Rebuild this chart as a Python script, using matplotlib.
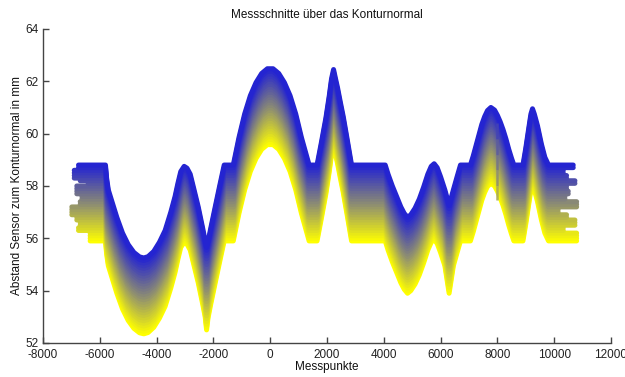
import matplotlib
matplotlib.use('Agg')
import matplotlib.pyplot as plt
from matplotlib.colors import LinearSegmentedColormap
from matplotlib.collections import LineCollection
import numpy as np

plt.rcParams['font.family'] = ['Liberation Sans', 'DejaVu Sans']
plt.rcParams['axes.unicode_minus'] = False

# profile of the top (first) measurement cut, x in Messpunkte, y in mm
prof_x = [-6800, -5800, -5760, -5700, -5600, -5400, -5200, -5000, -4800, -4600,
          -4450, -4300, -4100, -3900, -3700, -3500, -3350, -3250, -3150, -3030,
          -2930, -2816, -2680, -2534, -2380, -2290, -2240, -2190, -2100, -1936,
          -1780, -1620, -1300, -1100, -900, -700, -500, -300, -100, 100,
          300, 500, 700, 900, 1100, 1370, 1650, 1800, 1961, 2080,
          2160, 2231, 2300, 2372, 2470, 2572, 2700, 2865, 4050, 4150,
          4300, 4450, 4600, 4720, 4836, 4950, 5100, 5250, 5400, 5550,
          5670, 5773, 5880, 6000, 6150, 6300, 6450, 6580, 6700, 7050,
          7150, 7250, 7350, 7450, 7550, 7650, 7770, 7900, 8000, 8100,
          8200, 8300, 8400, 8500, 8580, 8900, 9000, 9117, 9180, 9236,
          9300, 9412, 9550, 9670, 9800, 10800]
prof_y = [58.8, 58.8, 58.3, 57.85, 57.5, 56.8, 56.2, 55.76, 55.46, 55.29,
          55.25, 55.3, 55.5, 55.85, 56.3, 57.0, 57.6, 58.1, 58.55, 58.75,
          58.68, 58.45, 57.85, 57.2, 56.4, 55.9, 55.65, 55.85, 56.35, 57.2,
          58.0, 58.8, 58.8, 59.85, 60.75, 61.45, 61.95, 62.3, 62.48, 62.48,
          62.3, 61.95, 61.45, 60.75, 59.85, 58.8, 58.8, 59.65, 60.6, 61.45,
          62.1, 62.45, 62.1, 61.75, 61.2, 60.65, 59.85, 58.8, 58.8, 58.45,
          58.0, 57.6, 57.2, 56.95, 56.8, 56.9, 57.15, 57.5, 57.95, 58.45,
          58.75, 58.85, 58.7, 58.35, 57.85, 57.25, 57.85, 58.35, 58.8, 58.8,
          59.15, 59.55, 59.95, 60.35, 60.65, 60.88, 61.0, 60.9, 60.7, 60.45,
          60.15, 59.8, 59.4, 59.05, 58.8, 58.8, 59.45, 60.3, 60.75, 60.95,
          60.75, 60.3, 59.6, 59.1, 58.8, 58.8]
# total drop from the first to the last cut at each profile point
prof_drop = [2.9] * len(prof_y)
prof_drop[prof_x.index(-2240)] = 3.15
prof_drop[prof_x.index(6300)] = 3.35

# downward shift of every cut relative to the first one
offsets = [0.0, 0.1, 0.2, 0.3, 0.4, 0.5, 0.6, 0.7, 0.8, 0.9,
           1.0, 1.1, 1.2, 1.3, 1.4, 1.5, 1.6, 1.7, 1.8, 1.9,
           2.0, 2.1, 2.2, 2.3, 2.4, 2.5, 2.6, 2.7, 2.8, 2.9]

# first and last Messpunkt of every cut (ragged ends)
x_start = [-6750, -6750, -6900, -6900, -6900, -6900, -6690, -6410, -6810, -6810,
           -6810, -6810, -6630, -6630, -6690, -6690, -6985, -6985, -6985, -6985,
           -6810, -6810, -6690, -6690, -6750, -6750, -6340, -6340, -6340, -6340]
x_end = [10670, 10670, 10320, 10320, 10435, 10435, 10730, 10730, 10435, 10435,
         10495, 10495, 10380, 10380, 10790, 10790, 10790, 10140, 10140, 10435,
         10435, 10730, 10730, 10730, 10320, 10320, 10790, 10790, 10790, 10790]

# single outlier column near x = 8000
glitch_x = [8000, 8000, 8000, 8000, 8000, 8000]
glitch_y = [60.4, 59.8, 59.2, 58.6, 58.0, 57.45]

cmap = LinearSegmentedColormap.from_list('by', [(0.14, 0.14, 0.82), (0.55, 0.55, 0.45), (1.0, 1.0, 0.0)])

fig = plt.figure(figsize=(6.25, 3.77), dpi=100)
ax = fig.add_axes([0.0688, 0.0902, 0.9088, 0.833])

n = len(offsets)
# last (yellow) cut first, so the blue cut ends up on top
for i in range(n - 1, -1, -1):
    xs = list(prof_x)
    xs[0] = x_start[i]
    xs[-1] = x_end[i]
    ys = [v - offsets[i] * d / 2.9 for v, d in zip(prof_y, prof_drop)]
    ax.plot(xs, ys, color=cmap(i / (n - 1)), lw=3.6, solid_capstyle='round',
            solid_joinstyle='round')

pts = np.column_stack([glitch_x, glitch_y])
segs = [pts[k:k + 2] for k in range(len(pts) - 1)]
lc = LineCollection(segs, colors=[cmap(0.15 + 0.12 * k) for k in range(len(segs))],
                    linewidths=1.8, alpha=0.9)
ax.add_collection(lc)

ax.set_xlim(-8000, 12000)
ax.set_ylim(52, 64)
ax.set_xticks(range(-8000, 12001, 2000))
ax.set_yticks(range(52, 65, 2))
ax.spines['top'].set_visible(False)
ax.spines['right'].set_visible(False)
for s in ['left', 'bottom']:
    ax.spines[s].set_color('#444444')
    ax.spines[s].set_linewidth(1.0)
ax.tick_params(direction='in', length=4, width=1.0, color='#444444',
               labelsize=8.5, labelcolor='#222222')
ax.tick_params(axis='x', pad=4.5)
ax.tick_params(axis='y', pad=3)

ax.set_title('Messschnitte über das Konturnormal', fontsize=8.5, color='#111111', pad=8)
ax.set_xlabel('Messpunkte', fontsize=8.5, color='#111111', labelpad=0)
ax.set_ylabel('Abstand Sensor zum Konturnormal in mm', fontsize=8.5, color='#111111', labelpad=2)

fig.savefig('out.png', dpi=100, facecolor='white')
